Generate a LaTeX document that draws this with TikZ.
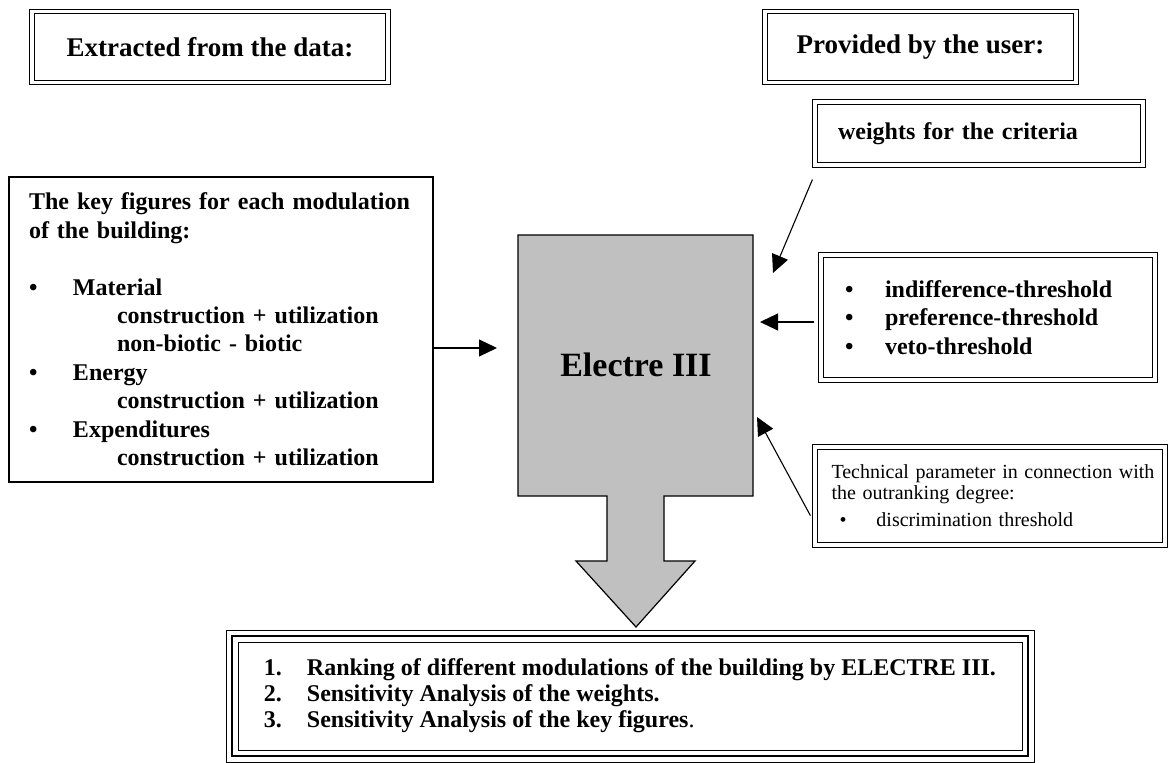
\documentclass[tikz,border=0pt]{standalone}
\usepackage{fontspec}
\setmainfont{Liberation Serif}
\usetikzlibrary{arrows.meta, calc}
\definecolor{electregray}{RGB}{192, 192, 192}

\begin{document}
\begin{tikzpicture}[x=0.5pt, y=-0.5pt,
  dbox/.style={draw, line width=0.6pt, double=white, double distance=1.6pt, inner sep=0pt, align=left},
  titlebox/.style={dbox, minimum height=35.5pt, font=\bfseries\fontsize{13.5}{16}\selectfont},
  plainbox/.style={draw, line width=0.6pt, inner sep=0pt, align=left},
  tribox/.style={preaction={draw, line width=6.5pt}, preaction={draw=white, line width=5.5pt}, draw, line width=1.4pt, inner sep=0pt, align=left},
  arr/.style={-{Triangle[length=9pt, width=8.5pt]}, line width=0.55pt}
]
  \useasboundingbox (0,0) rectangle (1170,763);

  % headings
  \node[titlebox, minimum width=178pt] (datahead) at (210, 47) {Extracted from the data:};
  \node[titlebox, minimum width=155.5pt] (userhead) at (920.5, 47) {Provided by the user:};

  % key figures of the building
  \node[plainbox, minimum width=212pt, minimum height=152.5pt, text width=192pt,
        font=\bfseries\fontsize{12}{14.2}\selectfont] (keyfig) at (221, 329.5) {
    \makebox[192pt][s]{The key figures for each modulation}\\
    of the building:\\[14.2pt]
    \makebox[22pt][l]{\textbullet}Material\\
    \hspace*{44pt}construction + utilization\\
    \hspace*{44pt}non-biotic - biotic\\
    \makebox[22pt][l]{\textbullet}Energy\\
    \hspace*{44pt}construction + utilization\\
    \makebox[22pt][l]{\textbullet}Expenditures\\
    \hspace*{44pt}construction + utilization
  };

  % user input
  \node[dbox, minimum width=164pt, minimum height=31.5pt, text width=141pt,
        font=\bfseries\fontsize{12}{14.2}\selectfont] (weights) at (979, 133.5) {weights for the criteria};

  \node[dbox, minimum width=167pt, minimum height=62.5pt, text width=143pt,
        font=\bfseries\fontsize{12}{14.2}\selectfont] (thresh) at (988, 317.5) {
    \makebox[20pt][l]{\textbullet}indifference-threshold\\
    \makebox[20pt][l]{\textbullet}preference-threshold\\
    \makebox[20pt][l]{\textbullet}veto-threshold
  };

  \node[dbox, minimum width=175pt, minimum height=49pt, text width=158.5pt,
        font=\fontsize{10}{10.5}\selectfont] (tech) at (990, 496) {
    \makebox[158.5pt][s]{Technical parameter in connection with}\\
    the outranking degree:\\[3pt]
    \hspace*{4pt}\makebox[18.5pt][l]{\textbullet}discrimination threshold
  };

  % Electre block arrow
  \draw[fill=electregray, line width=0.6pt] (518,235) -| (753,496) -- (664,496) -- (664,561)
    -- (695,561) -- (636,627) -- (576,561) -- (607,561) -- (607,496) -- (518,496) -- cycle;
  \node[font=\bfseries\fontsize{17}{19}\selectfont] (electre) at (636, 365) {Electre III};

  % results
  \node[tribox, minimum width=398pt, minimum height=60pt,
        font=\bfseries\fontsize{12}{13}\selectfont] (result) at (630, 696) {
    \makebox[21.5pt][l]{1.}Ranking of different modulations of the building by ELECTRE III.\\
    \makebox[21.5pt][l]{2.}Sensitivity Analysis of the weights.\\
    \makebox[21.5pt][l]{3.}Sensitivity Analysis of the key figures\mdseries.
  };

  % connectors
  \coordinate (keytip) at (497, 348);
  \coordinate (weighttip) at (773, 273);
  \coordinate (threshtip) at (760, 322);
  \coordinate (techtip) at (757, 417);

  \draw[arr] (keyfig.east |- keytip) -- (keytip);
  \draw[arr] ([shift={(-1pt,-7pt)}]weights.south west) -- (weighttip);
  \draw[arr] ([xshift=-3pt]thresh.west |- threshtip) -- (threshtip);
  \draw[arr] ([shift={(-2pt,15pt)}]tech.south west) -- (techtip);
\end{tikzpicture}
\end{document}
